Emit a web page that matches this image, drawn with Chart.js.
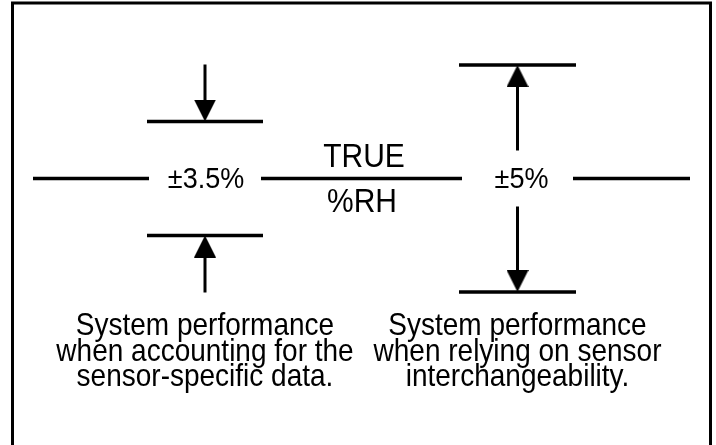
<!DOCTYPE html>
<html>
<head>
<meta charset="utf-8">
<script src="https://cdn.jsdelivr.net/npm/chart.js@4.4.1/dist/chart.umd.min.js"></script>
<style>
  html, body { margin: 0; padding: 0; background: #fff; }
  #wrap { width: 716px; height: 445px; }
</style>
</head>
<body>
<div id="wrap"><canvas id="diagram"></canvas></div>
<script>
// values shown in the figure
const toleranceValues = [3.5, 5];   // ±%RH, sensor-specific vs interchangeable
const toleranceLabels = toleranceValues.map(v => '±' + v + '%');
const referenceLabel = ['TRUE', '%RH'];
const captionLines = [
    ['System performance', 'when accounting for the', 'sensor-specific data.'],
    ['System performance', 'when relying on sensor', 'interchangeability.']
];

// layout of the schematic, in figure units (same as pixels of 716x445)
const BASE_Y = 178.5;
const bandCenter = [205, 517.5];
const barHalf = [58, 58.5];
const barOffset = [57, 113.5];       // not to scale, like the original
const arrowFrom = [114, 28];         // where each arrow shaft starts (offset from baseline)
const baseSegments = [[33, 149], [261, 462], [573, 690]];
const valueX = [206, 521.5];
const captionY = [335, 360.5, 386];
const TEXT_STRETCH = 1.12;           // original lettering is a bit tall/narrow

function seg(x1, y1, x2, y2, w) {
    return {
        type: 'line',
        data: [{ x: x1, y: y1 }, { x: x2, y: y2 }],
        borderColor: '#000',
        borderWidth: w,
        pointRadius: 0,
        clip: false
    };
}

// arrowhead image, tip in the centre of the canvas, pointing up
function makeArrowHead() {
    const c = document.createElement('canvas');
    c.width = 22;
    c.height = 44;
    const g = c.getContext('2d');
    g.fillStyle = '#000';
    g.beginPath();
    g.moveTo(11, 22);
    g.lineTo(22, 44);
    g.lineTo(0, 44);
    g.closePath();
    g.fill();
    return c;
}
const arrowHead = makeArrowHead();

const datasets = [];

// outer frame (open at the bottom)
datasets.push({
    type: 'line',
    data: [{ x: 12.5, y: 450 }, { x: 12.5, y: 3 }, { x: 710.5, y: 3 }, { x: 710.5, y: 450 }],
    borderColor: '#000',
    borderWidth: 3,
    pointRadius: 0,
    clip: false
});

// true %RH line
baseSegments.forEach(s => datasets.push(seg(s[0], BASE_Y, s[1], BASE_Y, 3.5)));

const headPts = [];
const headRot = [];
toleranceValues.forEach((v, i) => {
    const cx = bandCenter[i];
    [-1, 1].forEach(dir => {
        const barY = BASE_Y + dir * barOffset[i];
        const startY = BASE_Y + dir * arrowFrom[i];
        // tolerance limit bar
        datasets.push(seg(cx - barHalf[i], barY, cx + barHalf[i], barY, 3.5));
        // arrow shaft, stops inside the head
        const pointsDown = startY < barY;
        const shaftEnd = barY + (pointsDown ? -12 : 12);
        datasets.push(seg(cx, startY, cx, shaftEnd, 3));
        headPts.push({ x: cx, y: barY });
        headRot.push(pointsDown ? 180 : 0);
    });
});

datasets.push({
    type: 'scatter',
    data: headPts,
    pointStyle: arrowHead,
    rotation: headRot,
    pointRotation: headRot,
    showLine: false,
    clip: false
});

function tallText(ctx, str, px, py) {
    ctx.save();
    ctx.translate(px, py);
    ctx.scale(1, TEXT_STRETCH);
    ctx.fillText(str, 0, 0);
    ctx.restore();
}

const labelPlugin = {
    id: 'figureText',
    afterDatasetsDraw(chart) {
        const { ctx, scales: { x, y } } = chart;
        ctx.save();
        ctx.fillStyle = '#000';
        ctx.textAlign = 'center';
        ctx.textBaseline = 'alphabetic';

        ctx.font = '27px "Liberation Sans", Arial, sans-serif';
        toleranceLabels.forEach((t, i) => {
            tallText(ctx, t, x.getPixelForValue(valueX[i]), y.getPixelForValue(BASE_Y + 9.5));
        });

        ctx.font = '30px "Liberation Sans", Arial, sans-serif';
        tallText(ctx, referenceLabel[0], x.getPixelForValue(364), y.getPixelForValue(BASE_Y - 11.5));
        tallText(ctx, referenceLabel[1], x.getPixelForValue(362), y.getPixelForValue(BASE_Y + 33.5));

        ctx.font = '28px "Liberation Sans", Arial, sans-serif';
        captionLines.forEach((lines, i) => {
            lines.forEach((ln, j) => {
                tallText(ctx, ln, x.getPixelForValue(bandCenter[i]), y.getPixelForValue(captionY[j]));
            });
        });
        ctx.restore();
    }
};

new Chart(document.getElementById('diagram'), {
    data: { datasets: datasets },
    options: {
        responsive: true,
        maintainAspectRatio: false,
        animation: false,
        devicePixelRatio: 1,
        events: [],
        layout: { padding: 0, autoPadding: false },
        plugins: { legend: { display: false }, tooltip: { enabled: false } },
        scales: {
            x: { type: 'linear', min: 0, max: 716, display: false },
            y: { type: 'linear', min: 0, max: 445, reverse: true, display: false }
        }
    },
    plugins: [labelPlugin]
});
</script>
</body>
</html>
